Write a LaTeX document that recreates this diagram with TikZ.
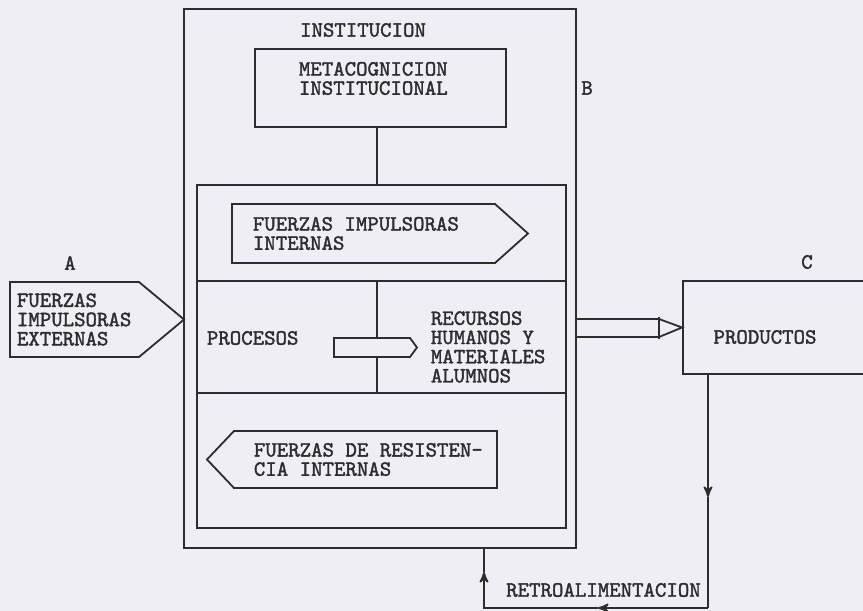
\documentclass[tikz,border=0pt]{standalone}
\usepackage{fontspec}
\newfontfamily\typewfont{Latin Modern Mono}[FakeBold=1.6]
\usetikzlibrary{calc}
\usetikzlibrary{arrows}
\usetikzlibrary{fit}
\definecolor{paper}{RGB}{238,238,244}
\definecolor{ink}{RGB}{45,45,45}

\begin{document}
\begin{tikzpicture}[x=0.5pt, y=-0.5pt, line width=0.9pt, >=stealth',
  box/.style={draw=ink, inner sep=0},
  txt/.style={text=ink, font=\typewfont\fontsize{10.9}{9.6}\selectfont, align=left, inner sep=0}]
\fill[paper] (0,0) rectangle (863,611);
\useasboundingbox (0,0) rectangle (863,611);
\coordinate (row1) at (0,281);
\coordinate (row2) at (0,393);
\coordinate (mid) at (377,0);
% institucion
\node[box, fit={(184,9) (576,548)}] (inst) {};
\node[txt] (inst-lbl) at (363,30) {INSTITUCION};
\node[txt] (b-lbl) at (587,88) {B};
\node[box, fit={(255,49) (506,127)}] (meta) {};
\node[txt, anchor=west] (meta-txt) at (298,78.5) {METACOGNICION\\INSTITUCIONAL};
\node[box, fit={(197,185) (566,528)}] (inner) {};
\draw[ink] (meta.south -| mid) -- (inner.north -| mid);
\draw[ink] (inner.west |- row1) -- (inner.east |- row1);
\draw[ink] (inner.west |- row2) -- (inner.east |- row2);
\draw[ink] (mid |- row1) -- (mid |- row2);
\draw[ink] (232,204) -- (495,204) -- (528,233.5) -- (495,263) -- (232,263) -- cycle;
\node[txt, anchor=west] (impint) at (252,233.5) {FUERZAS IMPULSORAS\\INTERNAS};
\node[txt, anchor=west] (proc) at (206,338) {PROCESOS};
\draw[ink, fill=paper] (334,338) -- (410,338) -- (417,347.5) -- (410,357) -- (334,357) -- cycle;
\node[txt, anchor=west] (recur) at (430,347) {RECURSOS\\HUMANOS Y\\MATERIALES\\ALUMNOS};
\draw[ink] (234,431) -- (497,431) -- (497,488) -- (234,488) -- (207,459.5) -- cycle;
\node[txt, anchor=west] (resint) at (253,459.5) {FUERZAS DE RESISTEN-\\CIA INTERNAS};
% entrada
\node[txt] (a-lbl) at (70,263) {A};
\draw[ink] (10,282) -- (139,282) -- (184,319.5) -- (139,357) -- (10,357) -- cycle;
\node[txt, anchor=west] (ext) at (16,319.5) {FUERZAS\\IMPULSORAS\\EXTERNAS};
% salida
\node[box, fit={(683,281) (890,374)}] (prod) {};
\node[txt] (prod-txt) at (765,337) {PRODUCTOS};
\node[txt] (c-lbl) at (807,262) {C};
\coordinate (o1) at (659,319);
\coordinate (o2) at (659,337);
\draw[ink] (o1 -| inst.east) -- (o1) -- (prod.west) -- (o2) -- (o2 -| inst.east);
\draw[ink] ([yshift=1pt]o1) -- ([yshift=-1pt]o2);
% retroalimentacion
\coordinate (fb-r) at (708,608);
\coordinate (fb-l) at (484,608);
\coordinate (fb-down) at (708,497);
\coordinate (fb-bot) at (598,608);
\coordinate (fb-up) at (484,572);
\draw[ink, ->] (prod.south west -| fb-r) -- (fb-down);
\draw[ink] (fb-down) -- (fb-r);
\draw[ink, ->] (fb-r) -- (fb-bot);
\draw[ink, ->] (fb-bot) -- (fb-l) -- (fb-up);
\draw[ink] (fb-up) -- (inst.south -| fb-up);
\node[txt] (retro) at (603.5,590) {RETROALIMENTACION};
\end{tikzpicture}
\end{document}
